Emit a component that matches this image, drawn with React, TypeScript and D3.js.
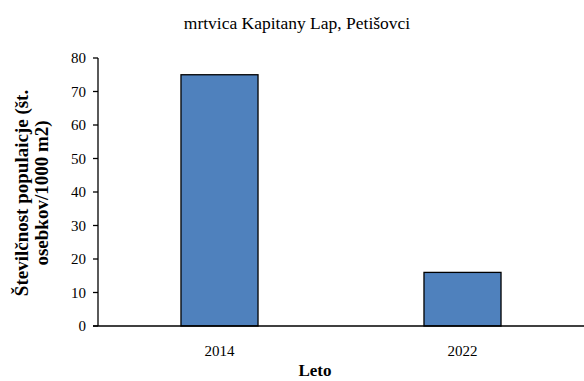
import React from "react";
import * as d3 from "d3";

const categories = ["2014", "2022"];
const values = [75, 16];
const yTicks = [0, 10, 20, 30, 40, 50, 60, 70, 80];
const title = "mrtvica Kapitany Lap, Petišovci";
const yLabelLines = ["Številčnost populaicje (št.", "osebkov/1000 m2)"];
const xLabel = "Leto";

export default function App() {
  const W = 584, H = 381;
  const left = 98, right = 584, top = 58, bottom = 326;
  const x = d3.scaleBand<string>().domain(categories).range([left, right]).paddingInner(0.683).paddingOuter(0.3415);
  const y = d3.scaleLinear().domain([0, 80]).range([bottom, top]);
  const fs = { fontFamily: "'Liberation Serif', 'DejaVu Serif', serif" };
  return (
    <svg width={W} height={H} style={{ position: "absolute", left: 0, top: 0 }}>
      <rect width={W} height={H} fill="#fff" />
      <text x={297} y={29} textAnchor="middle" fontSize={17.5} fill="#000" style={fs}>{title}</text>
      {categories.map((c, i) => (
        <rect key={c} x={x(c)} y={y(values[i])} width={x.bandwidth()} height={y(0) - y(values[i])}
          fill="#4F81BD" stroke="#000" strokeWidth={1.3} />
      ))}
      <line x1={left} x2={left} y1={top} y2={bottom} stroke="#000" strokeWidth={1.3} />
      <line x1={left - 5} x2={right} y1={bottom} y2={bottom} stroke="#000" strokeWidth={1.3} />
      {yTicks.map(t => (
        <g key={t}>
          <line x1={left - 5} x2={left} y1={y(t)} y2={y(t)} stroke="#000" strokeWidth={1.3} />
          <text x={left - 12} y={y(t)} dy="0.35em" textAnchor="end" fontSize={15} fill="#000" style={fs}>{t}</text>
        </g>
      ))}
      {categories.map(c => (
        <text key={c} x={(x(c) as number) + x.bandwidth() / 2} y={356} textAnchor="middle" fontSize={15} fill="#000" style={fs}>{c}</text>
      ))}
      <text x={315} y={376} textAnchor="middle" fontSize={17} fontWeight="bold" fill="#000" style={fs}>{xLabel}</text>
      <text transform={`translate(0,193) rotate(-90)`} textAnchor="middle" fontSize={19} fontWeight="bold" fill="#000" style={fs}>
        {yLabelLines.map((l, i) => (
          <tspan key={i} x={0} y={28 + i * 20}>{l}</tspan>
        ))}
      </text>
    </svg>
  );
}
